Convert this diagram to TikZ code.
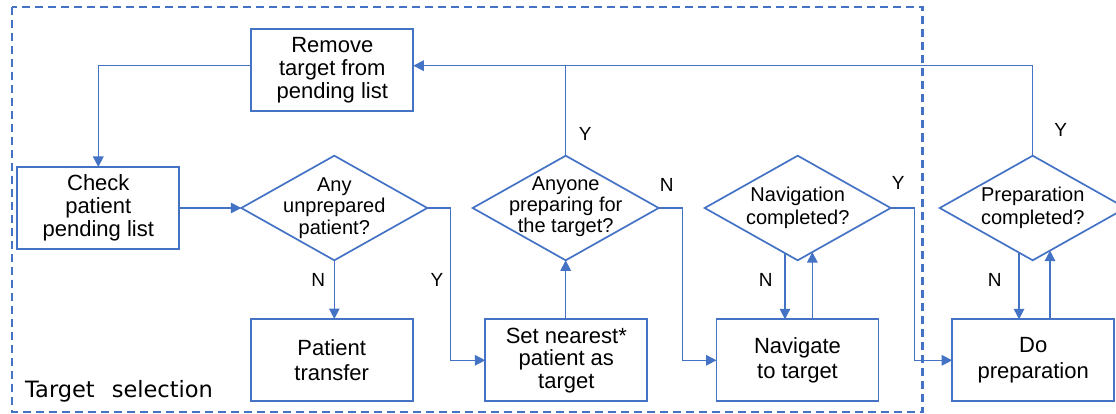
\documentclass[tikz,border=0pt]{standalone}
\usepackage{fontspec}
\setmainfont{Liberation Sans}
\newfontfamily\dvfont{DejaVu Sans}
\usetikzlibrary{arrows.meta,shapes.geometric,calc}
\definecolor{obl}{RGB}{68,114,196}
\begin{document}
\begin{tikzpicture}[x=1pt,y=-1pt,
  box/.style={draw=obl,line width=1.8pt,minimum width=162pt,minimum height=82pt,inner sep=0pt,outer sep=0pt,align=center,font=\fontsize{22}{22.7}\selectfont},
  box2/.style={box,font=\fontsize{22}{25.3}\selectfont},
  dia/.style={draw=obl,line width=1.7pt,shape=diamond,minimum width=186pt,minimum height=104.6pt,inner sep=0pt,outer sep=0pt},
  dtext/.style={align=center,inner sep=0pt,font=\fontsize{20}{21.3}\selectfont},
  dtext2/.style={dtext,font=\fontsize{20}{23}\selectfont},
  yn/.style={font=\fontsize{19}{19}\selectfont,inner sep=0pt},
  conn/.style={draw=obl,line width=1.5pt},
  arr/.style={conn,-{Triangle[length=10.5pt,width=10.5pt]}},
  frame/.style={draw=obl,line width=2.2pt,dash pattern=on 8pt off 5pt},
]
\useasboundingbox (0,0) rectangle (1116,414);
\clip (0,0) rectangle (1116,414);

% dashed frame
\draw[frame] (11.7,7.3) rectangle (922.5,412);
\node[anchor=base west,inner sep=0pt,font=\dvfont\fontsize{22.5}{22.5}\selectfont] (ts) at (25,397.7) {Target\hspace{17pt}selection};

% boxes
\node[box] (Remove) at (332.3,70.3) {Remove\\target from\\pending list};
\node[box] (Check) at (98.3,208) {Check\\patient\\pending list};
\node[box2] (Trans) at (331.7,360) {Patient\\transfer};
\node[box] (Set) at (566.3,360.3) {Set nearest*\\patient as\\target};
\node[box2] (Nav) at (797.5,360.3) {Navigate\\to target};
\node[box2] (Do) at (1033.2,360.3) {Do\\preparation};

% diamonds
\node[dia] (D1) at (334.3,208) {};
\node[dtext] (D1t) at (D1) {Any\\unprepared\\patient?};
\node[dia] (D2) at (565.7,208) {};
\node[dtext] (D2t) at ($(D2)+(0,-1.5)$) {Anyone\\preparing for\\the target?};
\node[dia] (D3) at (797.7,208) {};
\node[dtext2] (D3t) at (D3) {Navigation\\completed?};
\node[dia] (D4) at (1032.7,208) {};
\node[dtext2] (D4t) at (D4) {Preparation\\completed?};

% helper coordinates
\coordinate (top) at (0,65.7);
\coordinate (k1) at (450.3,208);
\coordinate (k2) at (682.7,208);
\coordinate (k3) at (914.7,208);
\coordinate (d3a) at ($(D3.south)!0.137!(D3.west)$);
\coordinate (d3b) at ($(D3.south)!0.157!(D3.east)$);
\coordinate (d4a) at ($(D4.south)!0.147!(D4.west)$);
\coordinate (d4b) at ($(D4.south)!0.186!(D4.east)$);

% connectors
\draw[arr] (Remove.west |- top) -| (Check.north);
\draw[arr] (Check.east) -- (D1.west);
\draw[arr] (D1.south) -- (D1.south |- Trans.north);
\draw[arr] (D1.east) -- (k1) |- (Set.west);
\draw[arr] (D2.south |- Set.north) -- (D2.south);
\draw[conn] (D2.north) -- (D2.north |- top);
\draw[arr] (D4.north) -- (D4.north |- top) -- (Remove.east |- top);
\draw[arr] (D2.east) -- (k2) |- (Nav.west);
\draw[arr] (D3.east) -- (k3) |- (Do.west);
\draw[arr] (d3a) -- (d3a |- Nav.north);
\draw[arr] (d3b |- Nav.north) -- (d3b);
\draw[arr] (d4a) -- (d4a |- Do.north);
\draw[arr] (d4b |- Do.north) -- (d4b);

% Y/N labels
\node[yn] (n1) at (318.3,280.3) {N};
\node[yn] (y1) at (437,280.3) {Y};
\node[yn] (y2) at (585.3,134.3) {Y};
\node[yn] (n2) at (666.7,185) {N};
\node[yn] (n3) at (765.7,280.3) {N};
\node[yn] (y3) at (898.3,182.7) {Y};
\node[yn] (y4) at (1060.7,130) {Y};
\node[yn] (n4) at (994.7,280.3) {N};
\end{tikzpicture}
\end{document}
